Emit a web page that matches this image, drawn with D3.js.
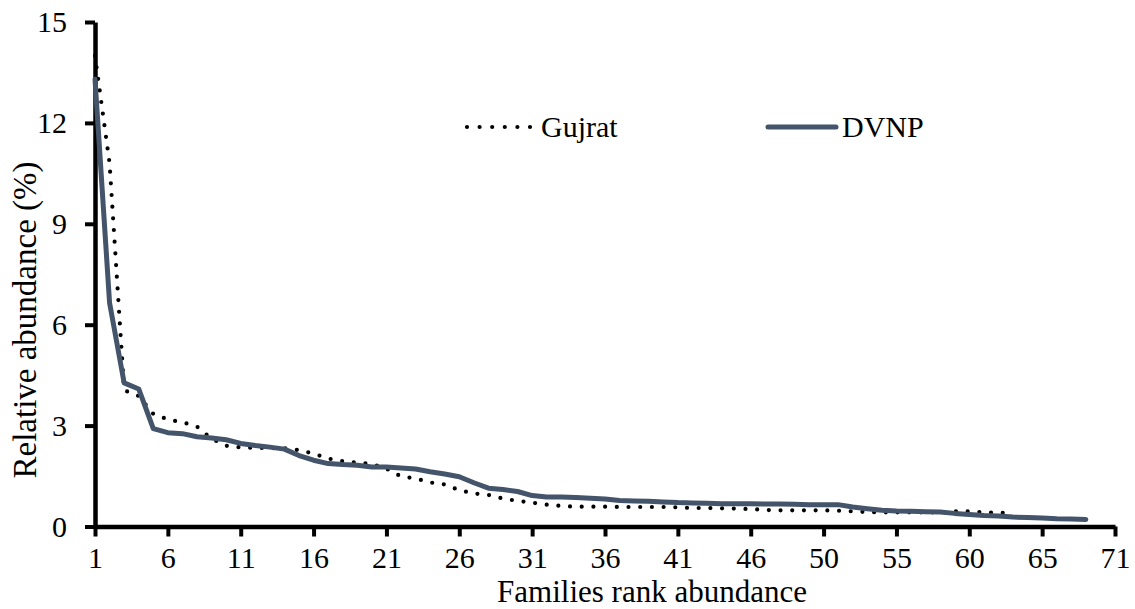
<!DOCTYPE html>
<html>
<head>
  <meta charset="utf-8">
  <title>Families rank abundance</title>
<script src="https://d3js.org/d3.v7.min.js"></script>
  <style>
    body { margin: 0; background: #fff; }
    svg text { font-family: "Times New Roman", "Liberation Serif", "DejaVu Serif", serif; fill: #000; }
    .axis path, .axis line { stroke: #000; }
  </style>
</head>
<body>
  <script>
    // relative abundance (%) by family rank
    const gujrat = [14.0, 10.8, 4.05, 3.88, 3.35, 3.18, 3.1, 2.97, 2.61, 2.4,
      2.35, 2.34, 2.33, 2.33, 2.27, 2.17, 2.02, 1.94, 1.9, 1.86,
      1.72, 1.49, 1.43, 1.31, 1.25, 1.08, 0.98, 0.94, 0.83, 0.76,
      0.71, 0.65, 0.61, 0.59, 0.59, 0.59, 0.58, 0.58, 0.58, 0.58,
      0.57, 0.55, 0.55, 0.54, 0.53, 0.52, 0.49, 0.48, 0.48, 0.48,
      0.48, 0.47, 0.45, 0.43, 0.42, 0.42, 0.42, 0.42, 0.42, 0.45,
      0.45, 0.42, 0.41, 0.39];
    const dvnp = [13.3, 6.65, 4.27, 4.09, 2.91, 2.79, 2.76, 2.67, 2.63, 2.58,
      2.47, 2.41, 2.36, 2.3, 2.11, 1.97, 1.87, 1.84, 1.82, 1.77,
      1.77, 1.74, 1.71, 1.63, 1.56, 1.48, 1.3, 1.14, 1.1, 1.04,
      0.92, 0.88, 0.88, 0.86, 0.84, 0.82, 0.77, 0.76, 0.75, 0.73,
      0.71, 0.7, 0.69, 0.68, 0.68, 0.68, 0.67, 0.67, 0.66, 0.65,
      0.65, 0.65, 0.58, 0.53, 0.48, 0.46, 0.45, 0.44, 0.43, 0.39,
      0.36, 0.33, 0.31, 0.28, 0.27, 0.25, 0.23, 0.22, 0.21];
    const xTickLabels = ["1", "6", "11", "16", "21", "26", "31", "36", "41", "46", "50", "55", "60", "65", "71"];
    const yTicks = [0, 3, 6, 9, 12, 15];
    const seriesNames = ["Gujrat", "DVNP"];

    const width = 1135, height = 609;
    const fontFamily = "'Times New Roman', 'Liberation Serif', 'DejaVu Serif', serif";
    const fontSize = 30;

    const svg = d3.select("body").append("svg")
        .attr("width", width)
        .attr("height", height)
        .attr("font-family", fontFamily);

    const x = d3.scaleLinear().domain([0, 70]).range([95, 1115]);
    const y = d3.scaleLinear().domain([0, 15]).range([526.5, 22]);

    // x axis: one tick every 5 ranks, labels as printed on the figure
    const xAxis = svg.append("g")
        .attr("class", "axis")
        .attr("transform", "translate(0," + y(0) + ")")
        .call(d3.axisBottom(x)
          .tickValues(d3.range(0, 71, 5))
          .tickFormat((d, i) => xTickLabels[i])
          .tickSize(10)
          .tickSizeOuter(0)
          .tickPadding(10));
    xAxis.attr("font-family", fontFamily);
    xAxis.select(".domain").attr("stroke-width", 4.5);
    xAxis.selectAll(".tick line").attr("stroke-width", 4);
    xAxis.selectAll("text").style("font-size", fontSize + "px").style("font-family", fontFamily);

    const yAxis = svg.append("g")
        .attr("class", "axis")
        .attr("transform", "translate(" + x(0) + ",0)")
        .call(d3.axisLeft(y)
          .tickValues(yTicks)
          .tickSize(10)
          .tickSizeOuter(0)
          .tickPadding(18));
    yAxis.attr("font-family", fontFamily);
    yAxis.select(".domain").attr("stroke-width", 4.5);
    yAxis.selectAll(".tick line").attr("stroke-width", 4);
    yAxis.selectAll("text").style("font-size", fontSize + "px").style("font-family", fontFamily);

    const line = d3.line()
        .x((d, i) => x(i))
        .y(d => y(d));

    svg.append("path")
        .datum(gujrat)
        .attr("fill", "none")
        .attr("stroke", "#000")
        .attr("stroke-width", 4.2)
        .attr("stroke-linecap", "round")
        .attr("stroke-dasharray", "0 11.7")
        .attr("d", line);

    svg.append("path")
        .datum(dvnp)
        .attr("fill", "none")
        .attr("stroke", "#44546A")
        .attr("stroke-width", 5)
        .attr("stroke-linecap", "round")
        .attr("stroke-linejoin", "round")
        .attr("d", line);

    // axis titles
    svg.append("text")
        .attr("x", 652)
        .attr("y", 602)
        .attr("text-anchor", "middle")
        .style("font-size", "31px")
        .text("Families rank abundance");

    svg.append("text")
        .attr("transform", "translate(36,320) rotate(-90)")
        .attr("text-anchor", "middle")
        .style("font-size", "33px")
        .text("Relative abundance (%)");

    // legend
    const legend = svg.append("g");
    legend.append("line")
        .attr("x1", 467).attr("x2", 531)
        .attr("y1", 127).attr("y2", 127)
        .attr("stroke", "#000")
        .attr("stroke-width", 4.2)
        .attr("stroke-linecap", "round")
        .attr("stroke-dasharray", "0 12.6");
    legend.append("text")
        .attr("x", 541).attr("y", 137)
        .style("font-size", fontSize + "px")
        .text(seriesNames[0]);
    legend.append("line")
        .attr("x1", 768).attr("x2", 836)
        .attr("y1", 127).attr("y2", 127)
        .attr("stroke", "#44546A")
        .attr("stroke-width", 5)
        .attr("stroke-linecap", "round");
    legend.append("text")
        .attr("x", 842).attr("y", 137)
        .style("font-size", fontSize + "px")
        .text(seriesNames[1]);
  </script>
</body>
</html>
